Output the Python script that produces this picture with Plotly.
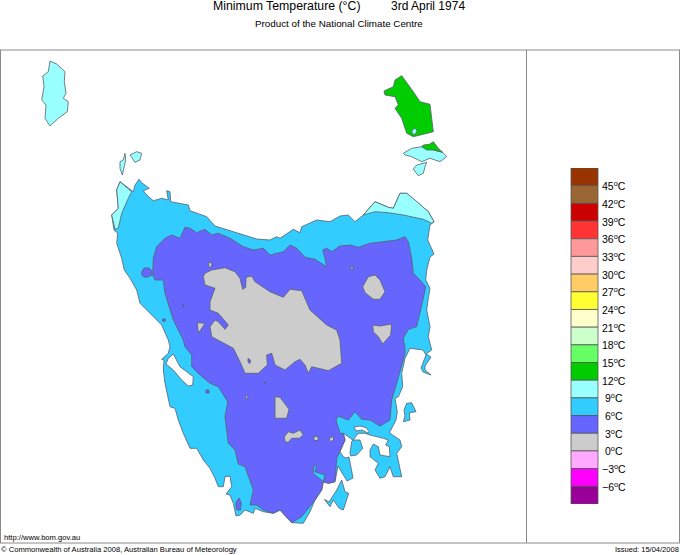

import plotly.graph_objects as go

COLOR_0 = "#cccccc"
COLOR_3 = "#6666ff"
COLOR_6 = "#33ccff"
COLOR_9 = "#99ffff"
COLOR_12 = "#00cc00"
OUTLINE = "#56606c"
FRAME = "#8a8a8a"

# Outlines in map units (reference pixels), clockwise from the north-west tip
tasmania_x = [120, 125, 133.3, 135, 139, 141.7, 149.3, 143.3, 146.7, 153.3, 161.7, 168.3, 166.7, 170, 170.7, 188.3, 190, 206.7, 215, 233.3, 256.7, 270, 276.7, 280, 293.3, 300, 301.7, 316.7, 330, 340, 348.3, 355, 363.3, 375, 388.3, 393.3, 400, 406.7, 415, 428.3, 434, 430, 427.7, 431.7, 434, 430, 426.7, 425.7, 430, 428.3, 426.7, 430, 428.3, 431.7, 426, 431, 425, 425, 431, 423, 421, 426, 423, 410, 405, 401.7, 402.7, 398.3, 395, 397.3, 396, 390, 390, 400, 401.7, 396.7, 401.7, 393.3, 390, 385, 380, 375, 378.3, 370, 370, 373.3, 378.3, 380, 390, 389.3, 385.7, 388.3, 383.3, 370, 365, 358.3, 351.7, 350, 350.7, 356.7, 362.7, 360, 352.7, 348.3, 343.3, 345, 340, 343.3, 346, 349, 353, 347, 342, 338, 335, 328.3, 323.3, 321.7, 315, 310, 303.3, 291.7, 280, 273.3, 263.3, 255, 253.3, 245, 240, 236, 233.3, 230, 226, 231.7, 230, 225, 223.3, 218.3, 215, 210, 203.3, 196.7, 190, 183.3, 178.3, 175, 170, 165, 163.3, 164, 161.7, 168.3, 170, 168.3, 161.7, 153.3, 145, 140, 136.7, 130, 124.3, 121.7, 116.7, 117.7, 114, 111.7, 118.3, 116.7]
tasmania_y = [181.7, 185.7, 191.7, 185, 179.3, 182.7, 188.3, 190.7, 195, 200.7, 198.3, 200, 190.7, 191.7, 201.7, 205, 210.7, 216.7, 226, 231.7, 239, 240, 236.7, 238.3, 229.3, 232.7, 226.7, 220, 221.7, 216, 215, 221.7, 215, 201.7, 207.3, 208.3, 193.3, 193.3, 200, 211.7, 221.7, 225, 240, 250, 254, 257, 270, 280, 288.3, 298.3, 310, 326.7, 336.7, 350, 354, 357, 366, 370, 375, 372, 368, 355, 350, 348.3, 358.3, 373.3, 386.7, 396.7, 398.3, 411.7, 420, 431.7, 433.3, 440, 446.7, 453.3, 476.7, 476.7, 466.7, 476.7, 478.3, 470, 463.3, 456.7, 450, 444, 446.7, 455, 456.7, 446.7, 445, 440, 438.3, 435, 433.3, 433.3, 441.7, 453.3, 456, 455, 448.3, 440, 440, 436.7, 433.3, 440, 451.7, 456.7, 458, 457, 478, 481, 472, 466, 481.7, 483.3, 481.7, 490, 500, 511.7, 523.3, 522.7, 510, 513.3, 511.7, 508.3, 513.3, 510, 515, 516, 503.3, 495, 494, 486.7, 476, 476.7, 486.7, 486.7, 478.3, 468.3, 460, 448.3, 448.3, 433.3, 420, 408.3, 406.7, 383.3, 370, 360, 359.3, 353.3, 346.7, 340, 325, 316.7, 308.3, 303.3, 290, 278.3, 270, 258.3, 243.3, 233.3, 230, 215, 208.3, 190]

nw_patch_x = [120, 125, 131.7, 128.3, 121.7, 118.3, 115, 111.7, 118.3, 116.7]
nw_patch_y = [181.7, 185.7, 191.7, 198.3, 213.3, 228.3, 229.3, 215, 208.3, 190]

ne_patch_x = [363.3, 375, 388.3, 393.3, 400, 406.7, 415, 428.3, 434, 431.7, 423.3, 403.3, 388.3, 375]
ne_patch_y = [215, 201.7, 207.3, 208.3, 193.3, 193.3, 200, 211.7, 221.7, 223.3, 219.3, 215, 212.7, 211.7]

cold_x = [153.3, 156.7, 165, 171.7, 180, 185, 190, 196.7, 205, 211.7, 218.3, 230, 243.3, 253.3, 263.3, 270, 283.3, 290, 296.7, 305, 315, 326.7, 325, 322.7, 326.7, 331.7, 340, 350, 358.3, 370, 383.3, 396.7, 405, 408.3, 411.7, 413.3, 420, 425.7, 423.3, 419.3, 416.7, 408.3, 403.3, 405, 405, 396.7, 391.7, 390, 380, 370, 361.7, 355, 348.3, 338.3, 336, 340, 343.3, 345, 340, 336.7, 335, 328.3, 323.3, 325, 315, 316.7, 314, 313.3, 323.3, 321.7, 315, 301.7, 291.7, 280, 273.3, 263.3, 256.7, 250, 253.3, 245, 238.3, 235, 228.3, 225, 227.7, 218.3, 210, 200, 191.7, 191.7, 185, 183.3, 173.3, 165, 163.3, 155, 152.7]
cold_y = [258.3, 246.7, 238.3, 235, 238.3, 227.3, 228.3, 232.7, 229.3, 235, 233.3, 238.3, 246.7, 250, 248.3, 255, 251.7, 245, 248.3, 257.3, 259.3, 266.7, 258.3, 250, 248.3, 251.7, 246, 245, 247.3, 243.3, 241.7, 240, 236.7, 241.7, 258.3, 273.3, 280, 286.7, 298.3, 316.7, 326.7, 329.3, 338.3, 348.3, 353.3, 383.3, 400, 420, 426, 420, 419.3, 411.7, 420, 416, 420, 433.3, 433.3, 440, 451.7, 458.3, 481.7, 483.3, 481.7, 475, 471.7, 466, 465, 473.3, 481.7, 490, 500, 516.7, 522.7, 510, 513.3, 510, 505, 505, 490, 466.7, 464, 450, 443.3, 416.7, 401.7, 386.7, 383.3, 375, 366.7, 355, 346.7, 340, 320, 293.3, 280, 280, 275]

plateau_x = [203.3, 205, 211.7, 225, 235, 240, 242.7, 245.7, 246, 251.7, 255, 270, 283.3, 290, 301.7, 305, 310, 326.7, 336.7, 340, 341, 341.7, 328.3, 311.7, 308.3, 305, 300, 295, 285, 275, 271.7, 266.7, 267.3, 258.3, 245, 240, 233.3, 223.3, 211.7, 210, 215, 218.3, 225, 228.3, 218.3, 210, 210, 215, 205]
plateau_y = [276.7, 273.3, 270, 267.7, 271.7, 278.3, 289.3, 287.3, 277.3, 276, 281.7, 291.7, 297.3, 289.3, 290.7, 298.3, 310, 325, 330, 340, 350, 363.3, 370.7, 366.7, 373.3, 365, 359.3, 361.7, 370, 365, 353.3, 355, 365, 373.3, 373.3, 361.7, 348.3, 343.3, 336.7, 326.7, 320, 321.7, 329.3, 325, 313.3, 310, 301.7, 288.3, 285]

east_blob_x = [362.7, 368.3, 375, 380, 385, 380, 373.3, 365]
east_blob_y = [286.7, 276.7, 275, 280, 291.7, 299.3, 299.3, 292.7]

east_heart_x = [372.7, 380, 391.7, 390.7, 382.7, 378.3, 373.3]
east_heart_y = [325, 326, 324, 335, 344, 336.7, 331.7]

south_blob_x = [275, 280, 289, 286.7, 275]
south_blob_y = [396.7, 397.3, 409.3, 418.3, 418.3]

south_dumbbell_x = [284.3, 288.3, 293.3, 300, 303.3, 299.3, 291.7, 288.3, 285]
south_dumbbell_y = [436.7, 431.7, 433.3, 430, 435, 438.3, 438.3, 442.3, 441.7]

west_triangle_x = [197.3, 205, 198.3]
west_triangle_y = [322.7, 323.3, 333.3]

grey_specks_x = [[208.3, 211.7, 211.7, 209], [350.3, 352, 353.5], [245.5, 248, 247.5, 246], [314, 318, 318, 314], [329.5, 333.5, 333.5, 331, 329.5]]
grey_specks_y = [[262.7, 262.7, 267, 267], [269, 265.5, 269], [395.5, 396, 399, 399], [436.5, 436.5, 440.5, 440.5], [438, 436.5, 440, 441.5, 440]]

west_lake_x = [141.7, 144, 149, 152, 152, 148, 144, 141.7]
west_lake_y = [272, 268, 268, 271, 275, 277, 277, 275]

purple_specks_x = [[162, 164, 166, 164], [182, 184, 183], [206, 209, 209, 206], [248, 250.5, 250, 248], [264, 266, 265], [236, 239, 241.3, 240.5, 237, 236]]
purple_specks_y = [[320, 318.5, 320, 322], [305, 305, 307], [390, 390, 393, 393], [358.5, 360, 363.5, 362], [382, 382, 383.5], [502, 498, 503, 510, 510, 506]]

macquarie_x = [173.3, 180, 193.3, 192.7, 188.3, 181.7, 173.3, 166, 168.3]
macquarie_y = [354, 366.7, 376.7, 385, 386, 380, 370, 364, 358.3]

pitt_water_x = [354, 360, 366, 369, 368, 362, 356]
pitt_water_y = [427, 426, 427.5, 431.5, 433, 430, 431]

bruny_x = [341.7, 345, 348.7, 343.3, 339.3, 333.3, 330, 324.3, 329, 336.7]
bruny_y = [480, 491.7, 493.3, 510, 508.3, 500, 506.7, 499.3, 502, 490]

maria_x = [406.7, 411.7, 416, 409.3, 410, 403.3, 405, 404]
maria_y = [403.3, 402.7, 411.7, 412.7, 420, 421.7, 416, 410]

flinders_x = [384, 393.3, 395, 401.7, 413.3, 420, 430, 431.7, 433.3, 423.3, 413.3, 406.7, 401.7, 395, 398.3, 395, 385]
flinders_y = [91, 86.7, 80, 75.7, 91.7, 101.7, 104.3, 116.7, 131.7, 134.3, 136.7, 133.3, 118.3, 108.3, 105, 96.7, 95]

flinders_lake_x = [411.7, 415, 417, 415, 412.5]
flinders_lake_y = [131, 127.7, 131, 134.5, 134]

cape_barren_x = [403.3, 411.7, 421.7, 433.3, 442.7, 446.7, 440, 430, 421.7, 411.7, 405]
cape_barren_y = [153.3, 148.3, 146.7, 150, 152.3, 156.7, 161.7, 158.3, 161.7, 156.7, 155]

cape_barren_green_x = [421.7, 423.3, 429.3, 433.3, 438.3, 442.7, 433.3, 426.7]
cape_barren_green_y = [146.7, 145, 144.3, 141.7, 148.3, 152.3, 150, 150]

clarke_x = [413.3, 416.7, 426.7, 425, 423.3, 418.3]
clarke_y = [169, 165, 162.3, 166.7, 173.3, 175.7]

king_x = [50, 56.7, 65, 64.3, 66, 63.3, 68.3, 67.3, 58.3, 50, 45, 46, 41.7, 44, 42.7, 48.3]
king_y = [61, 64, 71.7, 81.7, 93.3, 98.3, 101.7, 111.7, 118.3, 126, 118.3, 105, 100, 86.7, 76, 71.7]

hunter_x = [125, 125.7, 122.3, 120, 120, 123.3]
hunter_y = [153.3, 160, 175, 168.3, 161.7, 160]

three_hummock_x = [130, 136.7, 141.7, 140, 135]
three_hummock_y = [155, 151.7, 153.3, 160, 162.3]

# Legend scale, top cell first
legend_low = [45, 42, 39, 36, 33, 30, 27, 24, 21, 18, 15, 12, 9, 6, 3, 0, -3, -6, -9]
legend_colors = ["#993300", "#996633", "#cc0000", "#ff3333", "#ff9999", "#ffcccc", "#ffcc66", "#ffff33", "#ffffcc", "#ccffcc", "#66ff66", "#00cc00", "#99ffff", "#33ccff", "#6666ff", "#cccccc", "#ffaaff", "#ff00ff", "#990099"]
legend_ticks = [45, 42, 39, 36, 33, 30, 27, 24, 21, 18, 15, 12, 9, 6, 3, 0, -3, -6]

fig = go.Figure()


def add_region(xs, ys, color):
    fig.add_trace(
        go.Scatter(
            x=xs + xs[:1],
            y=ys + ys[:1],
            mode="lines",
            fill="toself",
            fillcolor=color,
            line=dict(color=OUTLINE, width=0.8),
            hoverinfo="skip",
            showlegend=False,
        )
    )


for xs, ys in [(king_x, king_y), (hunter_x, hunter_y), (three_hummock_x, three_hummock_y), (clarke_x, clarke_y), (cape_barren_x, cape_barren_y)]:
    add_region(xs, ys, COLOR_9)

add_region(flinders_x, flinders_y, COLOR_12)
add_region(flinders_lake_x, flinders_lake_y, COLOR_9)
add_region(cape_barren_green_x, cape_barren_green_y, COLOR_12)

add_region(tasmania_x, tasmania_y, COLOR_6)
add_region(bruny_x, bruny_y, COLOR_6)
add_region(maria_x, maria_y, COLOR_6)
add_region(nw_patch_x, nw_patch_y, COLOR_9)
add_region(ne_patch_x, ne_patch_y, COLOR_9)

add_region(cold_x, cold_y, COLOR_3)
add_region(west_lake_x, west_lake_y, COLOR_3)

for xs, ys in [(plateau_x, plateau_y), (east_blob_x, east_blob_y), (east_heart_x, east_heart_y), (south_blob_x, south_blob_y), (south_dumbbell_x, south_dumbbell_y), (west_triangle_x, west_triangle_y)]:
    add_region(xs, ys, COLOR_0)

for xs, ys in zip(grey_specks_x, grey_specks_y):
    add_region(xs, ys, COLOR_0)
for xs, ys in zip(purple_specks_x, purple_specks_y):
    add_region(xs, ys, COLOR_3)

add_region(macquarie_x, macquarie_y, "white")
add_region(pitt_water_x, pitt_water_y, "white")

# Legend bar sits on its own temperature axis
fig.add_trace(
    go.Bar(
        x=[584.5] * len(legend_low),
        y=[3] * len(legend_low),
        base=legend_low,
        width=27,
        marker=dict(color=legend_colors, line=dict(color="#555555", width=0.8)),
        yaxis="y2",
        hoverinfo="skip",
        showlegend=False,
    )
)

for tick in legend_ticks:
    label = f"{tick}<sup>o</sup>C".replace("-", "\u2212")
    fig.add_annotation(x=614, y=tick, yref="y2", text=label, showarrow=False, font=dict(size=10.5, color="black"))

for x0, y0, x1, y1 in [(0, 50, 680, 50), (0, 543, 680, 543), (0.5, 50, 0.5, 543), (526.5, 50, 526.5, 543), (679.5, 50, 679.5, 543)]:
    fig.add_shape(type="line", x0=x0, y0=y0, x1=x1, y1=y1, line=dict(color=FRAME, width=1))


def add_text(x, y, text, size, anchor="left", xshift=0):
    fig.add_annotation(x=x, y=y, xshift=xshift, text=text, showarrow=False, xanchor=anchor, yanchor="middle", font=dict(size=size, color="black"))


add_text(211, 6, "Minimum Temperature (\u00b0C)", 12.3)
add_text(389, 6, "3rd April 1974", 12)
add_text(339, 23, "Product of the National Climate Centre", 9.8, "center")
add_text(2, 537, "http://www.bom.gov.au", 7.6)
add_text(0, 549, "\u00a9 Commonwealth of Australia 2008, Australian Bureau of Meteorology", 7.6, xshift=-1)
add_text(680, 549, "Issued: 15/04/2008", 7.5, "right", xshift=1)

fig.update_layout(
    width=680,
    height=555,
    autosize=False,
    margin=dict(l=0, r=0, t=0, b=0),
    plot_bgcolor="rgba(0,0,0,0)",
    paper_bgcolor="white",
    font=dict(family="Liberation Sans"),
    barmode="overlay",
    xaxis=dict(range=[0, 680], visible=False, fixedrange=True),
    yaxis=dict(range=[555, 0], visible=False, fixedrange=True),
    # 168 px to 504 px down the page holds -9 to 48 degrees
    yaxis2=dict(range=[-9, 48], domain=[51 / 555, 387 / 555], anchor="x", visible=False, fixedrange=True),
)

# The page margin would push the figure off the 680x555 window
fig.write_html("out.html", config={"displayModeBar": False}, post_script="document.body.style.margin = '0';")
